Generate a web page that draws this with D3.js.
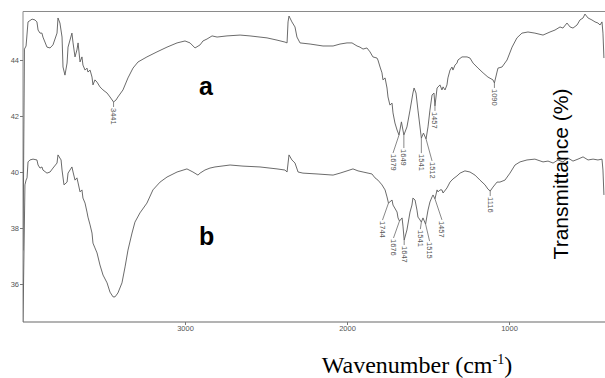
<!DOCTYPE html>
<html>
<head>
<meta charset="utf-8">
<script src="https://cdn.jsdelivr.net/npm/d3@7/dist/d3.min.js"></script>
<style>
  html, body { margin: 0; padding: 0; background: #fff; }
  svg { display: block; }
</style>
</head>
<body>
<svg id="chart" width="605" height="378"></svg>
<script>
// FTIR spectrum a
const wavenumbersA = [4000, 3991, 3981, 3969, 3944, 3926, 3914, 3907, 3895, 3883, 3877, 3852, 3833, 3815, 3790, 3784, 3772, 3759, 3753, 3741, 3728, 3722, 3698, 3691, 3679, 3667, 3660, 3648, 3636, 3630, 3617, 3605, 3599, 3586, 3574, 3568, 3556, 3543, 3525, 3506, 3481, 3463, 3441, 3426, 3414, 3383, 3352, 3321, 3290, 3235, 3173, 3111, 3049, 3000, 2969, 2938, 2907, 2889, 2864, 2833, 2802, 2741, 2660, 2599, 2494, 2432, 2383, 2370, 2364, 2358, 2340, 2321, 2309, 2290, 2228, 2148, 2086, 2043, 2000, 1969, 1938, 1920, 1901, 1877, 1858, 1840, 1815, 1809, 1796, 1784, 1778, 1765, 1753, 1747, 1735, 1722, 1716, 1704, 1691, 1679, 1664, 1649, 1630, 1611, 1593, 1586, 1574, 1562, 1541, 1528, 1512, 1500, 1488, 1475, 1463, 1457, 1444, 1426, 1414, 1407, 1395, 1383, 1377, 1364, 1352, 1346, 1333, 1321, 1315, 1290, 1259, 1241, 1222, 1191, 1160, 1130, 1099, 1090, 1074, 1068, 1043, 1012, 981, 951, 920, 883, 840, 790, 747, 716, 685, 667, 642, 623, 605, 580, 562, 543, 531, 512, 488, 469, 451, 438, 426, 420, 414];
const transmittanceA = [37.2, 44.39, 44.5, 45.36, 45.46, 45.43, 45.36, 45.07, 44.96, 44.96, 44.82, 44.46, 44.43, 44.54, 44.96, 45.5, 45.32, 44.82, 43.75, 43.46, 43.89, 44.46, 44.96, 44.61, 44.11, 44.36, 44.61, 43.93, 44.11, 43.82, 43.64, 43.71, 43.57, 43.64, 43.39, 43.11, 43.29, 43.21, 43.04, 42.93, 42.82, 42.68, 42.5, 42.57, 42.68, 42.93, 43.36, 43.71, 43.93, 44.11, 44.29, 44.46, 44.61, 44.68, 44.61, 44.43, 44.54, 44.68, 44.75, 44.86, 44.82, 44.86, 44.89, 44.86, 44.79, 44.71, 44.64, 44.61, 45.36, 45.57, 45.36, 45.18, 44.82, 44.61, 44.57, 44.5, 44.5, 44.57, 44.61, 44.61, 44.5, 44.46, 44.39, 44.43, 44.29, 44.11, 44.07, 44.0, 43.75, 43.54, 43.29, 43.36, 43.0, 42.68, 42.39, 42.46, 42.11, 41.75, 41.5, 41.32, 41.79, 41.32, 41.61, 42.21, 42.82, 43.0, 42.82, 42.21, 41.21, 41.39, 41.18, 41.61, 42.21, 42.75, 42.82, 42.36, 43.0, 43.11, 42.93, 43.04, 42.93, 43.11, 43.36, 43.64, 43.75, 43.64, 43.82, 43.89, 44.0, 44.11, 44.11, 44.07, 43.89, 43.71, 43.54, 43.39, 43.29, 43.18, 43.57, 43.71, 43.75, 44.0, 44.46, 44.79, 44.96, 45.0, 44.96, 44.89, 45.0, 45.07, 45.18, 45.14, 45.32, 45.18, 45.14, 45.25, 45.43, 45.5, 45.64, 45.5, 45.43, 45.36, 45.32, 45.25, 45.36, 44.96, 44.07];

// FTIR spectrum b
const wavenumbersB = [4000, 3988, 3981, 3975, 3969, 3957, 3938, 3914, 3907, 3895, 3883, 3877, 3852, 3833, 3815, 3790, 3784, 3765, 3759, 3747, 3728, 3722, 3698, 3691, 3679, 3667, 3660, 3648, 3636, 3630, 3617, 3605, 3599, 3586, 3574, 3568, 3556, 3543, 3525, 3506, 3481, 3463, 3444, 3432, 3414, 3389, 3370, 3352, 3327, 3309, 3278, 3235, 3198, 3154, 3111, 3049, 2988, 2951, 2920, 2907, 2877, 2846, 2815, 2722, 2642, 2537, 2432, 2383, 2370, 2358, 2340, 2321, 2302, 2272, 2185, 2086, 2043, 2000, 1963, 1932, 1901, 1870, 1846, 1827, 1809, 1784, 1765, 1753, 1744, 1722, 1716, 1691, 1685, 1676, 1660, 1654, 1647, 1630, 1611, 1599, 1593, 1580, 1568, 1562, 1553, 1541, 1531, 1515, 1500, 1488, 1475, 1469, 1457, 1444, 1438, 1426, 1414, 1407, 1383, 1364, 1346, 1321, 1302, 1272, 1241, 1210, 1179, 1148, 1130, 1116, 1099, 1074, 1056, 1025, 994, 963, 932, 889, 840, 790, 759, 728, 698, 667, 636, 605, 574, 543, 512, 481, 451, 426, 420, 414];
const transmittanceB = [34.65, 39.54, 39.71, 39.79, 40.36, 40.43, 40.46, 40.43, 40.25, 40.14, 40.18, 40.07, 39.96, 40.0, 40.14, 40.32, 40.61, 40.43, 40.07, 39.54, 39.64, 39.96, 40.18, 40.0, 39.71, 39.79, 39.61, 39.29, 39.36, 39.07, 38.89, 38.57, 38.39, 38.11, 37.82, 37.46, 37.29, 37.11, 36.68, 36.32, 36.04, 35.71, 35.54, 35.54, 35.68, 36.04, 36.61, 37.21, 37.82, 38.21, 38.54, 38.89, 39.36, 39.64, 39.82, 40.0, 40.11, 40.0, 39.89, 39.96, 40.07, 40.14, 40.18, 40.25, 40.21, 40.18, 40.11, 40.07, 40.0, 40.61, 40.43, 40.32, 40.0, 39.96, 39.93, 39.89, 39.96, 40.04, 40.11, 40.04, 40.0, 39.96, 39.93, 39.79, 39.71, 39.54, 39.36, 39.11, 38.89, 39.0, 38.82, 38.57, 38.36, 38.25, 38.36, 38.04, 37.57, 37.93, 38.57, 38.82, 39.07, 39.0, 38.64, 38.39, 38.32, 38.21, 38.36, 38.14, 38.64, 38.93, 39.11, 39.18, 39.04, 39.36, 39.29, 39.36, 39.36, 39.25, 39.43, 39.64, 39.75, 39.86, 39.96, 40.04, 40.0, 39.89, 39.71, 39.54, 39.39, 39.32, 39.46, 39.64, 39.64, 39.71, 39.96, 40.25, 40.36, 40.43, 40.46, 40.36, 40.39, 40.32, 40.43, 40.36, 40.5, 40.39, 40.46, 40.54, 40.43, 40.46, 40.43, 40.46, 40.07, 39.18];

// Labelled band positions (cm-1)
const peaksA = [3441, 1679, 1649, 1541, 1512, 1457, 1090];
const peaksB = [1744, 1676, 1647, 1541, 1515, 1457, 1116];

// Axis ticks
const xTicks = [3000, 2000, 1000];
const yTicks = [36, 38, 40, 42, 44];

// Where each band label sits relative to its band minimum (px)
const labelLayoutA = {
  3441: [0, 5], 1679: [-6, 18], 1649: [0, 13], 1541: [0, 15],
  1512: [6, 22], 1457: [0, 5], 1090: [0, 5]
};
const labelLayoutB = {
  1744: [-6, 17], 1676: [-6, 17], 1647: [0, 5], 1541: [-1, 7],
  1515: [4, 17], 1457: [7, 21], 1116: [0, 5]
};

const SANS = '"Liberation Sans", Arial, sans-serif';
const SERIF = '"Liberation Serif", "Times New Roman", serif';

const svg = d3.select("#chart");
const plot = { left: 23, right: 606.2, top: 11.5, bottom: 322 };

const x = d3.scaleLinear().domain([4000, 400]).range([plot.left, plot.right]);
const y = d3.scaleLinear().domain([34.643, 45.732]).range([plot.bottom, plot.top]);

svg.append("defs").append("clipPath").attr("id", "plotClip")
  .append("rect")
  .attr("x", plot.left).attr("y", plot.top - 1)
  .attr("width", 605 - plot.left).attr("height", plot.bottom - plot.top + 1);

// Frame: top rule, left and bottom axes
svg.append("line")
  .attr("x1", plot.left).attr("x2", 605)
  .attr("y1", plot.top).attr("y2", plot.top)
  .attr("stroke", "#8a8a8a").attr("stroke-width", 1);

function styleTickText(sel) {
  sel.style("font-family", SANS).style("font-size", "7.5px").style("fill", "#555");
}

const xAxis = d3.axisBottom(x).tickValues(xTicks).tickSize(3).tickSizeOuter(0).tickFormat(d3.format("d"));
const gx = svg.append("g").attr("transform", `translate(0,${plot.bottom})`).call(xAxis);
gx.select(".domain").attr("stroke", "#9a9a9a").attr("stroke-width", 1.6)
  .attr("d", `M${plot.left},0H605`);
gx.selectAll(".tick line").attr("stroke", "#777");
gx.selectAll(".tick text").attr("dy", "0.9em").attr("y", 2.5).call(styleTickText);

const yAxis = d3.axisLeft(y).tickValues(yTicks).tickSize(3).tickSizeOuter(0).tickFormat(d3.format("d"));
const gy = svg.append("g").attr("transform", `translate(${plot.left},0)`).call(yAxis);
gy.select(".domain").attr("stroke", "#8a8a8a").attr("stroke-width", 1)
  .attr("d", `M0,${plot.top}V${plot.bottom}`);
gy.selectAll(".tick line").attr("stroke", "#777");
gy.selectAll(".tick text").attr("x", -4).call(styleTickText);

// Spectra
const line = d3.line().x(d => x(d[0])).y(d => y(d[1]));
const seriesA = wavenumbersA.map((w, i) => [w, transmittanceA[i]]);
const seriesB = wavenumbersB.map((w, i) => [w, transmittanceB[i]]);

const curves = svg.append("g").attr("clip-path", "url(#plotClip)");
[seriesA, seriesB].forEach(s => {
  curves.append("path")
    .datum(s)
    .attr("d", line)
    .attr("fill", "none")
    .attr("stroke", "#5a5a5a")
    .attr("stroke-width", 0.9)
    .attr("stroke-linejoin", "round");
});

// Band labels with leader lines
function bandLabels(peaks, series, layout) {
  const g = svg.append("g");
  peaks.forEach(p => {
    const pt = series.find(d => d[0] === p);
    const px = x(pt[0]), py = y(pt[1]);
    const [dx, dy] = layout[p];
    const lx = px + dx, ly = py + dy;
    g.append("line")
      .attr("x1", px).attr("y1", py)
      .attr("x2", lx).attr("y2", ly)
      .attr("stroke", "#555").attr("stroke-width", 0.7);
    g.append("text")
      .attr("transform", `translate(${lx},${ly + 1}) rotate(90)`)
      .attr("dominant-baseline", "central")
      .attr("text-anchor", "start")
      .style("font-family", SANS).style("font-size", "7.5px").style("fill", "#555")
      .text(p);
  });
}
bandLabels(peaksA, seriesA, labelLayoutA);
bandLabels(peaksB, seriesB, labelLayoutB);

// Series letters
[["a", 95], ["b", 245]].forEach(([t, yy]) => {
  svg.append("text").attr("x", 199).attr("y", yy)
    .style("font-family", SANS).style("font-weight", "bold")
    .style("font-size", "25px").style("fill", "#000")
    .text(t);
});

// Axis titles
svg.append("text")
  .attr("transform", "translate(568,174) rotate(-90)")
  .attr("text-anchor", "middle")
  .style("font-family", SANS).style("font-size", "21px").style("fill", "#000")
  .text("Transmittance (%)");

const xTitle = svg.append("text")
  .attr("x", 417).attr("y", 373)
  .attr("text-anchor", "middle")
  .style("font-family", SERIF).style("font-size", "24px").style("fill", "#000");
xTitle.append("tspan").text("Wavenumber (cm");
xTitle.append("tspan").style("font-size", "14px").attr("dy", -9).text("-1");
xTitle.append("tspan").attr("dy", 9).text(")");
</script>
</body>
</html>
